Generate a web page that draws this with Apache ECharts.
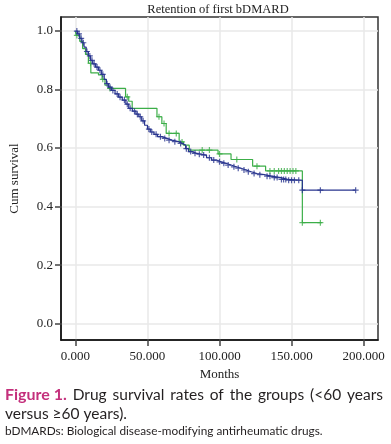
<!DOCTYPE html>
<html>
<head>
<meta charset="utf-8">
<script src="https://cdn.jsdelivr.net/npm/echarts@6/dist/echarts.min.js"></script>
<style>
html,body{margin:0;padding:0;background:#fff;}
#c{width:391px;height:444px;}
</style>
</head>
<body>
<div id="c"></div>
<script>
// ---------- data ----------
const chartTitle = 'Retention of first bDMARD';
const xAxisName = 'Months';
const yAxisName = 'Cum survival';
const xTickValues = [0, 50, 100, 150, 200];
const yTickValues = [0, 0.2, 0.4, 0.6, 0.8, 1.0];

// group 1 (blue)
const blueEventMonths = [1.5, 3, 4.5, 6, 7.5, 9, 10.5, 12, 14, 16, 18, 20, 21.5, 23, 25, 27.5, 30, 32.5, 35, 37, 39.5, 42, 44, 46, 48, 50, 52, 54.5, 57, 60, 63.5, 67, 71.5, 74, 76.5, 78.5, 81, 84, 87.5, 91, 94.5, 98, 101, 104.5, 108, 111.5, 115, 118.5, 122, 126, 131, 136, 142.6, 147, 157.5];
const blueEventSurvival = [0.99, 0.975, 0.96, 0.945, 0.93, 0.915, 0.90, 0.888, 0.877, 0.866, 0.852, 0.835, 0.82, 0.808, 0.797, 0.785, 0.774, 0.764, 0.75, 0.736, 0.726, 0.716, 0.707, 0.693, 0.678, 0.665, 0.655, 0.647, 0.639, 0.633, 0.627, 0.622, 0.616, 0.61, 0.598, 0.588, 0.582, 0.579, 0.576, 0.567, 0.559, 0.553, 0.548, 0.542, 0.536, 0.531, 0.525, 0.519, 0.513, 0.509, 0.504, 0.499, 0.493, 0.49, 0.456];
const blueCensorMonths = [1, 2.5, 4, 5.5, 8, 10, 11.5, 13, 15, 17, 19, 22, 24, 26, 29, 31, 34, 36, 38, 41, 43, 45, 47, 51, 53, 56, 59, 62, 65, 69, 73, 77, 80, 83, 86, 89, 93, 96, 100, 103, 106, 110, 113, 117, 120, 124, 128, 133, 135, 138, 140, 143, 144.5, 146, 148, 150, 152, 155, 157.5, 170, 194.5];
const blueEndMonth = 194.5;

// group 2 (green)
const greenEventMonths = [0.5, 3, 5, 7, 9, 10.7, 16, 18.5, 20.5, 23, 34.8, 37, 39.4, 56.6, 60, 63, 72, 75, 79, 99, 108, 123, 132, 157.5];
const greenEventSurvival = [0.985, 0.965, 0.94, 0.92, 0.89, 0.857, 0.85, 0.835, 0.815, 0.804, 0.775, 0.76, 0.736, 0.707, 0.684, 0.65, 0.621, 0.61, 0.593, 0.58, 0.561, 0.538, 0.522, 0.345];
const greenCensorMonths = [1, 10.5, 19, 24, 36, 58, 61.5, 65, 70, 74, 88, 93, 100, 112, 126, 135, 138, 141, 143, 145, 147, 149, 151, 153, 157.5, 170];
const greenEndMonth = 171;

// caption text
const captionLabel = 'Figure 1.';
const captionLine1 = 'Drug survival rates of the groups (<60 years';
const captionLine2 = 'versus \u226560 years).';
const captionNote = 'bDMARDs: Biological disease-modifying antirheumatic drugs.';

// ---------- helpers ----------
function stepPoints(times, surv, endT) {
  const pts = [[0, 1]];
  let prev = 1;
  for (let i = 0; i < times.length; i++) {
    pts.push([times[i], prev]);
    pts.push([times[i], surv[i]]);
    prev = surv[i];
  }
  pts.push([endT, prev]);
  return pts;
}
function survAt(times, surv, t) {
  let s = 1;
  for (let i = 0; i < times.length; i++) { if (times[i] <= t) s = surv[i]; }
  return s;
}
function censorPoints(cens, times, surv) {
  return cens.map(t => [t, survAt(times, surv, t)]);
}

const BLUE = '#28348f';
const GREEN = '#3cae48';
const plusSymbol = 'path://M5,0L5,10M0,5L10,5';
const serif = '"Liberation Serif", "DejaVu Serif", serif';
const capFont = 'Lato, "Noto Sans", sans-serif';

// ---------- caption layout ----------
const mctx = document.createElement('canvas').getContext('2d');
function tw(txt, font) { mctx.font = font; return mctx.measureText(txt).width; }
const capSize = 15.5;
const fontBold = 'bold ' + (capSize + 0.5) + 'px ' + capFont;
const fontNorm = capSize + 'px ' + capFont;
const fontNote = '11.8px ' + capFont;
const line1Words = [{t: captionLabel, f: fontBold, c: '#c4307c'}].concat(
  captionLine1.split(' ').map(w => ({t: w, f: fontNorm, c: '#231f20'})));
const capLeft = 5, capRight = 383;
let wordsW = 0;
line1Words.forEach(w => { w.w = tw(w.t, w.f); wordsW += w.w; });
const gap = (capRight - capLeft - wordsW) / (line1Words.length - 1);
const graphics = [];
let cx = capLeft;
line1Words.forEach(w => {
  graphics.push({type: 'text', left: cx, top: 387, style: {text: w.t, font: w.f, fill: w.c}});
  cx += w.w + gap;
});
graphics.push({type: 'text', left: capLeft, top: 406, style: {text: captionLine2, font: fontNorm, fill: '#231f20'}});
graphics.push({type: 'text', left: capLeft, top: 425, style: {text: captionNote, font: fontNote, fill: '#231f20'}});

// ---------- chart ----------
const chart = echarts.init(document.getElementById('c'), null, {renderer: 'canvas'});
chart.setOption({
  animation: false,
  backgroundColor: '#fff',
  title: {
    text: chartTitle, left: 218, top: 3, padding: 0, textAlign: 'center',
    textStyle: {fontFamily: serif, fontSize: 12.5, fontWeight: 'normal', color: '#222'}
  },
  grid: {left: 58, right: 13, top: 17, bottom: 104, show: true, borderColor: '#333', borderWidth: 1.5, backgroundColor: '#fff'},
  xAxis: {
    type: 'value', min: -10, max: 210,
    name: xAxisName, nameLocation: 'middle', nameGap: 27,
    nameTextStyle: {fontFamily: serif, fontSize: 13, color: '#222'},
    axisLine: {show: true, onZero: false, lineStyle: {color: '#111', width: 1.5}},
    axisTick: {show: true, length: 6, customValues: xTickValues, lineStyle: {color: '#444', width: 1.5}},
    axisLabel: {customValues: xTickValues, margin: 10, fontFamily: serif, fontSize: 13, color: '#222', formatter: v => v.toFixed(3)},
    splitLine: {show: true, lineStyle: {color: '#e9e9e9', width: 1.5}}
  },
  yAxis: {
    type: 'value', min: -0.056, max: 1.048,
    name: yAxisName, nameLocation: 'middle', nameGap: 40, nameRotate: 90,
    nameTextStyle: {fontFamily: serif, fontSize: 13, color: '#222'},
    axisLine: {show: true, onZero: false, lineStyle: {color: '#111', width: 1.5}},
    axisTick: {show: true, length: 6, customValues: yTickValues, lineStyle: {color: '#444', width: 1.5}},
    axisLabel: {customValues: yTickValues, margin: 8, fontFamily: serif, fontSize: 13, color: '#222', formatter: v => v.toFixed(1)},
    splitLine: {show: true, lineStyle: {color: '#e9e9e9', width: 1.5}}
  },
  series: [
    {type: 'line', name: '<60', data: stepPoints(greenEventMonths, greenEventSurvival, greenEndMonth), showSymbol: false, lineStyle: {color: GREEN, width: 1.2}, z: 2},
    {type: 'scatter', data: censorPoints(greenCensorMonths, greenEventMonths, greenEventSurvival), symbol: plusSymbol, symbolSize: 6, itemStyle: {color: 'transparent', borderColor: GREEN, borderWidth: 1.2}, z: 3},
    {type: 'line', name: '>=60', data: stepPoints(blueEventMonths, blueEventSurvival, blueEndMonth), showSymbol: false, lineStyle: {color: BLUE, width: 1.2}, z: 4},
    {type: 'scatter', data: censorPoints(blueCensorMonths, blueEventMonths, blueEventSurvival), symbol: plusSymbol, symbolSize: 6, itemStyle: {color: 'transparent', borderColor: BLUE, borderWidth: 1.2}, z: 5}
  ],
  graphic: graphics
});
</script>
</body>
</html>
